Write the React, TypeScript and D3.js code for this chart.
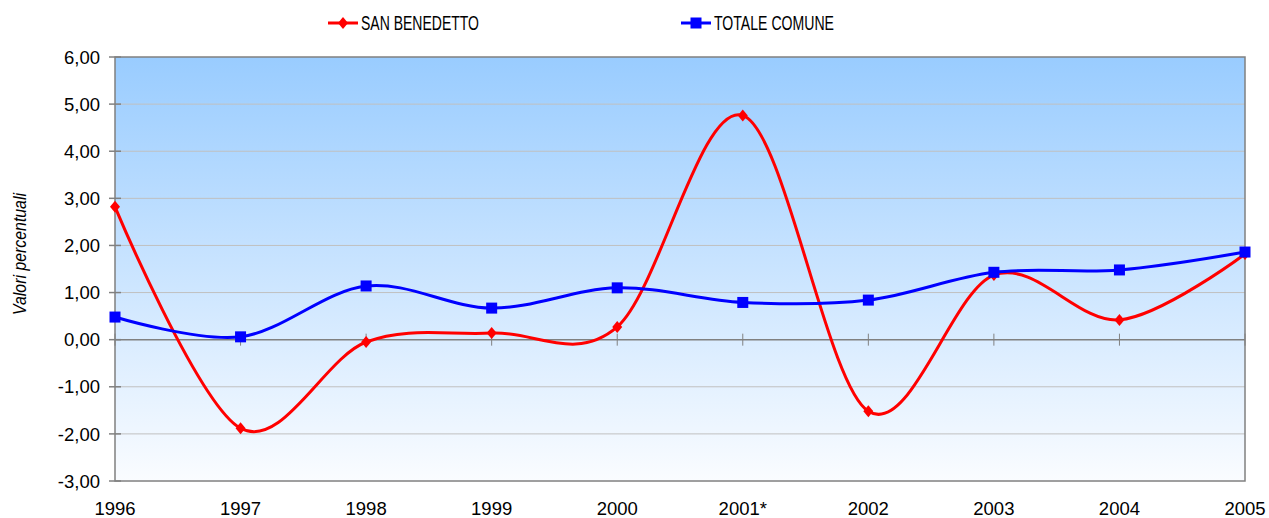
import { useEffect, useRef } from "react";
import * as d3 from "d3";

const years = ["1996", "1997", "1998", "1999", "2000", "2001*", "2002", "2003", "2004", "2005"];
const sanBenedetto = [2.82, -1.88, -0.05, 0.14, 0.27, 4.76, -1.52, 1.37, 0.42, 1.82];
const totaleComune = [0.48, 0.06, 1.14, 0.67, 1.1, 0.79, 0.84, 1.43, 1.48, 1.86];
const yTicks = [-3, -2, -1, 0, 1, 2, 3, 4, 5, 6];

export default function App() {
  const ref = useRef<SVGSVGElement>(null);

  useEffect(() => {
    const svg = d3.select(ref.current);
    svg.selectAll("*").remove();

    const width = 1269;
    const height = 518;
    const margin = { top: 57, right: 24, bottom: 37, left: 115 };
    const innerW = width - margin.left - margin.right;
    const innerH = height - margin.top - margin.bottom;
    const font = "Arial, 'Liberation Sans', sans-serif";

    const x = d3.scalePoint<string>().domain(years).range([0, innerW]);
    const y = d3.scaleLinear().domain([-3, 6]).range([innerH, 0]);

    // fondo sfumato
    const defs = svg.append("defs");
    const grad = defs
      .append("linearGradient")
      .attr("id", "bg")
      .attr("x1", 0)
      .attr("y1", 0)
      .attr("x2", 0)
      .attr("y2", 1);
    grad.append("stop").attr("offset", "0%").attr("stop-color", "#99CCFF");
    grad.append("stop").attr("offset", "100%").attr("stop-color", "#FAFCFF");

    const g = svg.append("g").attr("transform", `translate(${margin.left},${margin.top})`);

    g.append("rect")
      .attr("width", innerW)
      .attr("height", innerH)
      .attr("fill", "url(#bg)");

    // griglia orizzontale
    yTicks.forEach((t) => {
      if (t === -3 || t === 0 || t === 6) return;
      g.append("line")
        .attr("x1", 0)
        .attr("x2", innerW)
        .attr("y1", y(t))
        .attr("y2", y(t))
        .attr("stroke", "#C0C0C0")
        .attr("stroke-width", 1);
    });

    // bordo
    g.append("rect")
      .attr("width", innerW)
      .attr("height", innerH)
      .attr("fill", "none")
      .attr("stroke", "#808080")
      .attr("stroke-width", 1.5);

    // asse y: tacche e etichette
    yTicks.forEach((t) => {
      g.append("line")
        .attr("x1", -6)
        .attr("x2", 6)
        .attr("y1", y(t))
        .attr("y2", y(t))
        .attr("stroke", "#808080")
        .attr("stroke-width", 1.5);
      g.append("text")
        .attr("x", -15)
        .attr("y", y(t))
        .attr("dy", "0.36em")
        .attr("text-anchor", "end")
        .attr("font-family", font)
        .attr("font-size", 18.5)
        .attr("fill", "#000")
        .text(d3.format(".2f")(t).replace(".", ",").replace("\u2212", "-"));
    });

    // asse x a quota zero
    g.append("line")
      .attr("x1", 0)
      .attr("x2", innerW)
      .attr("y1", y(0))
      .attr("y2", y(0))
      .attr("stroke", "#808080")
      .attr("stroke-width", 1.5);

    years.forEach((yr) => {
      g.append("line")
        .attr("x1", x(yr)!)
        .attr("x2", x(yr)!)
        .attr("y1", y(0) - 6)
        .attr("y2", y(0) + 6)
        .attr("stroke", "#808080")
        .attr("stroke-width", 1);
      g.append("text")
        .attr("x", x(yr)!)
        .attr("y", innerH + 34)
        .attr("text-anchor", "middle")
        .attr("font-family", font)
        .attr("font-size", 18.5)
        .attr("fill", "#000")
        .text(yr);
    });

    // titolo asse y
    svg
      .append("text")
      .attr("transform", `translate(26,254) rotate(-90)`)
      .attr("text-anchor", "middle")
      .attr("font-family", font)
      .attr("font-size", 18.5)
      .attr("font-style", "italic")
      .attr("fill", "#000")
      .attr("textLength", 122)
      .attr("lengthAdjust", "spacingAndGlyphs")
      .text("Valori percentuali");

    const line = d3
      .line<number>()
      .x((_, i) => x(years[i])!)
      .y((d) => y(d))
      .curve(d3.curveCatmullRom.alpha(0));

    const series = [
      { name: "SAN BENEDETTO", values: sanBenedetto, color: "#FF0000", marker: "diamond", w: 118 },
      { name: "TOTALE COMUNE", values: totaleComune, color: "#0000FF", marker: "square", w: 120 },
    ];

    const drawMarker = (sel: any, kind: string, cx: number, cy: number, color: string) => {
      if (kind === "diamond") {
        sel
          .append("path")
          .attr("d", `M${cx},${cy - 6}L${cx + 5},${cy}L${cx},${cy + 6}L${cx - 5},${cy}Z`)
          .attr("fill", color);
      } else {
        sel
          .append("rect")
          .attr("x", cx - 5.5)
          .attr("y", cy - 5.5)
          .attr("width", 11)
          .attr("height", 11)
          .attr("fill", color);
      }
    };

    series.forEach((s) => {
      g.append("path")
        .attr("d", line(s.values))
        .attr("fill", "none")
        .attr("stroke", s.color)
        .attr("stroke-width", 3);
      s.values.forEach((v, i) => drawMarker(g, s.marker, x(years[i])!, y(v), s.color));
    });

    // legenda
    const legendX = [328, 681];
    series.forEach((s, i) => {
      const lx = legendX[i];
      const ly = 23;
      svg
        .append("line")
        .attr("x1", lx)
        .attr("x2", lx + 30)
        .attr("y1", ly)
        .attr("y2", ly)
        .attr("stroke", s.color)
        .attr("stroke-width", 3);
      drawMarker(svg, s.marker, lx + 15, ly, s.color);
      svg
        .append("text")
        .attr("x", lx + 33)
        .attr("y", ly)
        .attr("dy", "0.36em")
        .attr("font-family", font)
        .attr("font-size", 19.5)
        .attr("fill", "#000")
        .attr("textLength", s.w)
        .attr("lengthAdjust", "spacingAndGlyphs")
        .text(s.name);
    });
  }, []);

  return (
    <svg
      ref={ref}
      width={1269}
      height={518}
      style={{ position: "absolute", left: 0, top: 0, display: "block" }}
    />
  );
}
